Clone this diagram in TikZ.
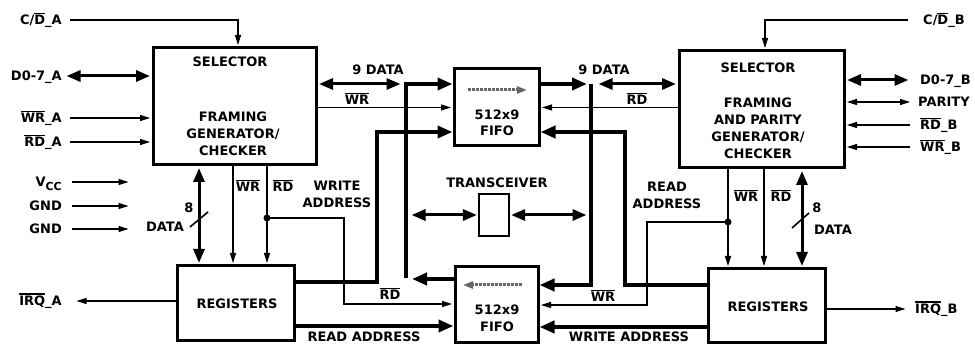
\documentclass[tikz,border=0pt]{standalone}
\usepackage{fontspec}
\setmainfont{DejaVu Sans}
\usetikzlibrary{positioning,calc,arrows.meta}
\newcommand{\ovl}[1]{\setbox0=\hbox{#1}\rlap{\rule[\dimexpr\ht0+1.5pt\relax]{\wd0}{1.2pt}}\box0}
\tikzset{
  blk/.style={draw=black,line width=3pt,fill=white,inner sep=0pt},
  txt/.style={font=\fontsize{13}{17}\selectfont\bfseries,inner sep=0pt,align=center},
  pin/.style={txt,text height=9.5pt,text depth=0pt},
  bus/.style={line width=4.5pt},
  bigtip/.style={line width=4.5pt,-{Triangle[length=15pt,width=12pt]}},
  dbus/.style={line width=3pt,{Triangle[length=14pt,width=11pt]}-{Triangle[length=14pt,width=11pt]},shorten >=1.5pt,shorten <=1.5pt},
  sig/.style={line width=1.1pt,-{Triangle[length=10pt,width=6pt]},shorten >=1.5pt},
  sigboth/.style={line width=1.1pt,{Triangle[length=10pt,width=6pt]}-{Triangle[length=10pt,width=6pt]},shorten <=1.5pt},
  fifoarr/.style={line width=3pt,densely dotted,black!60,-{Triangle[length=10pt,width=7pt]}},
}

\begin{document}
\begin{tikzpicture}[x=1pt,y=-1pt]
\useasboundingbox (0,0) rectangle (975,344);
\node[blk,minimum width=163pt,minimum height=117pt] (selA) at (234.5,106.5) {};
\node[blk,minimum width=165pt,minimum height=117pt] (selB) at (761.5,109.5) {};
\node[blk,minimum width=85pt,minimum height=77pt] (fifoT) at (496.5,107.5) {};
\node[blk,minimum width=83pt,minimum height=76pt] (fifoB) at (496.5,305) {};
\node[blk,minimum width=117pt,minimum height=75pt] (regA) at (235.5,303.5) {};
\node[blk,minimum width=117pt,minimum height=74pt] (regB) at (766.5,306) {};
\node[blk,line width=1.2pt,minimum width=30pt,minimum height=42pt] (xcvr) at (494,215) {};
\node[pin] (selAt) at (230,62) {SELECTOR};
\node[txt] (selAm) at (233,134) {FRAMING\\GENERATOR/\\CHECKER};
\node[pin] (selBt) at (758,68) {SELECTOR};
\node[txt] (selBm) at (758,128) {FRAMING\\AND PARITY\\GENERATOR/\\CHECKER};
\node[pin] (fifoTa) at (497,115) {512x9};
\node[pin] (fifoTb) at (497,131) {FIFO};
\node[pin] (fifoBa) at (497,310) {512x9};
\node[pin] (fifoBb) at (497,327) {FIFO};
\node[pin] (regAt) at (237,304) {REGISTERS};
\node[pin] (regBt) at (768,307) {REGISTERS};
\node[pin] (xcvrt) at (497,183) {TRANSCEIVER};
\node[pin,anchor=east] (cdA) at (62,20) {C/\ovl{D}\_A};
\node[pin,anchor=east] (dA) at (62,76) {D0-7\_A};
\node[pin,anchor=east] (wrA) at (62,118) {\ovl{WR}\_A};
\node[pin,anchor=east] (rdA) at (62,142) {\ovl{RD}\_A};
\node[pin,anchor=east] (vcc) at (62,182) {V\raisebox{-.5ex}{\fontsize{11}{11}\selectfont CC}};
\node[pin,anchor=east] (gndA) at (62,206) {GND};
\node[pin,anchor=east] (gndB) at (62,229) {GND};
\node[pin,anchor=east] (irqA) at (62,301) {\ovl{IRQ}\_A};
\node[pin,anchor=west] (cdB) at (923,20) {C/\ovl{D}\_B};
\node[pin,anchor=west] (dB) at (920,80) {D0-7\_B};
\node[pin,anchor=west] (parB) at (918,102) {PARITY};
\node[pin,anchor=west] (rdB) at (920,125) {\ovl{RD}\_B};
\node[pin,anchor=west] (wrB) at (920,147) {\ovl{WR}\_B};
\node[pin,anchor=west] (irqB) at (915,309) {\ovl{IRQ}\_B};
\node[pin] (dtA) at (378,70) {9 DATA};
\node[pin] (dtB) at (604,70) {9 DATA};
\node[pin] (wrT) at (357,100) {\ovl{WR}};
\node[pin] (rdT) at (637,100) {\ovl{RD}};
\node[pin] (wrSA) at (248,187) {\ovl{WR}};
\node[pin] (rdSA) at (283,187) {\ovl{RD}};
\node[pin] (wrSB) at (746,197) {\ovl{WR}};
\node[pin] (rdSB) at (781,197) {\ovl{RD}};
\node[pin] (nA) at (189,208) {8};
\node[pin] (ndA) at (165,227) {DATA};
\node[pin] (nB) at (817,208) {8};
\node[pin] (ndB) at (833,230) {DATA};
\node[txt] (waAt) at (337,194) {WRITE\\ADDRESS};
\node[txt] (raBt) at (667,195) {READ\\ADDRESS};
\node[pin] (rdF) at (390,295) {\ovl{RD}};
\node[pin] (wrF) at (603,297) {\ovl{WR}};
\node[pin] (raAt) at (364,337) {READ ADDRESS};
\node[pin] (waBt) at (629,337) {WRITE ADDRESS};
\coordinate (dcA) at (199,0);
\coordinate (wcA) at (233,0);
\coordinate (rcA) at (267,0);
\coordinate (dcB) at (802,0);
\coordinate (wcB) at (728,0);
\coordinate (rcB) at (764,0);
\coordinate (jA) at (267,218);
\coordinate (rdA1) at (344,218);
\coordinate (rdA2) at (344,304);
\coordinate (jB) at (728,222);
\coordinate (wrB1) at (647,222);
\coordinate (wrB2) at (647,305);
\coordinate (dTL) at (402,84);
\coordinate (busL1) at (406,84);
\coordinate (busL2) at (406,278);
\coordinate (oB) at (412,279);
\coordinate (waA1) at (377,282);
\coordinate (waA2) at (377,132);
\coordinate (busR1) at (591,84);
\coordinate (busR2) at (591,285);
\coordinate (raB1) at (625,285);
\coordinate (raB2) at (625,132);
\coordinate (raA) at (0,326);
\coordinate (waB) at (0,327);
\coordinate (tL) at (410,215);
\coordinate (tR) at (588,215);
\draw[sig] ([xshift=8pt]cdA.east) -| ([xshift=3.5pt]selA.north);
\draw[dbus] ([xshift=3pt]dA.east) -- (dA.east -| selA.west);
\draw[sig] ([xshift=8pt]wrA.east) -- (wrA.east -| selA.west);
\draw[sig] ([xshift=8pt]rdA.east) -- (rdA.east -| selA.west);
\draw[sig] ([xshift=10pt]vcc.east) -- ++(58,0);
\draw[sig] ([xshift=10pt]gndA.east) -- ++(58,0);
\draw[sig] ([xshift=10pt]gndB.east) -- ++(58,0);
\draw[sig] (regA.west |- irqA) -- ([xshift=13pt]irqA.east);
\draw[dbus] (selA.south -| dcA) -- (regA.north -| dcA);
\draw[sig] (selA.south -| wcA) -- (regA.north -| wcA);
\draw[sig] (selA.south -| rcA) -- (regA.north -| rcA);
\draw[line width=1.6pt] (190,227) -- (208,212);
\fill (jA) circle[radius=3.5pt];
\draw[sig] (jA) -- (rdA1) -- (rdA2) -- (rdA2 -| fifoB.west);
\draw[dbus] (dTL -| selA.east) -- (dTL);
\draw[sig] (fifoT.west -| selA.east) -- (fifoT.west);
\draw[bigtip] (busL2) -- (busL1) -- (busL1 -| fifoT.west);
\draw[bigtip] (regA.east |- waA1) -- (waA1) -- (waA2) -- (waA2 -| fifoT.west);
\draw[bigtip] (oB -| fifoB.west) -- (oB);
\draw[bigtip] (regA.east |- raA) -- (raA -| fifoB.west);
\draw[bigtip] (busR1 -| fifoT.east) -- ([xshift=-4pt]busR1);
\draw[bigtip] (busR1) -- (busR2) -- (busR2 -| fifoB.east);
\draw[dbus] ([xshift=6pt]busR1) -- (busR1 -| selB.west);
\draw[sig] (fifoT.east -| selB.west) -- (fifoT.east);
\draw[bigtip] (regB.west |- raB1) -- (raB1) -- (raB2) -- (raB2 -| fifoT.east);
\draw[bigtip] (regB.west |- waB) -- (waB -| fifoB.east);
\draw[dbus] (tL) -- (xcvr.west);
\draw[dbus] (xcvr.east) -- (tR);
\draw[fifoarr] (468,90) -- (527,90);
\draw[fifoarr] (522,285) -- (463,285);
\draw[sig] (selB.south -| wcB) -- (regB.north -| wcB);
\draw[sig] (selB.south -| rcB) -- (regB.north -| rcB);
\draw[dbus] (selB.south -| dcB) -- (regB.north -| dcB);
\draw[line width=1.6pt] (792,228) -- (809,213);
\fill (jB) circle[radius=3.5pt];
\draw[sig] (jB) -- (wrB1) -- (wrB2) -- (wrB2 -| fifoB.east);
\draw[sig] ([xshift=-15pt]cdB.west) -| ([xshift=3.5pt]selB.north);
\draw[dbus] (selB.east |- dB) -- ([xshift=-10pt]dB.west);
\draw[sigboth] (selB.east |- parB) -- ([xshift=-8pt]parB.west);
\draw[sig] ([xshift=-10pt]rdB.west) -- (selB.east |- rdB);
\draw[sig] ([xshift=-10pt]wrB.west) -- (selB.east |- wrB);
\draw[sig] (regB.east |- irqB) -- ([xshift=-8pt]irqB.west);
\end{tikzpicture}
\end{document}
